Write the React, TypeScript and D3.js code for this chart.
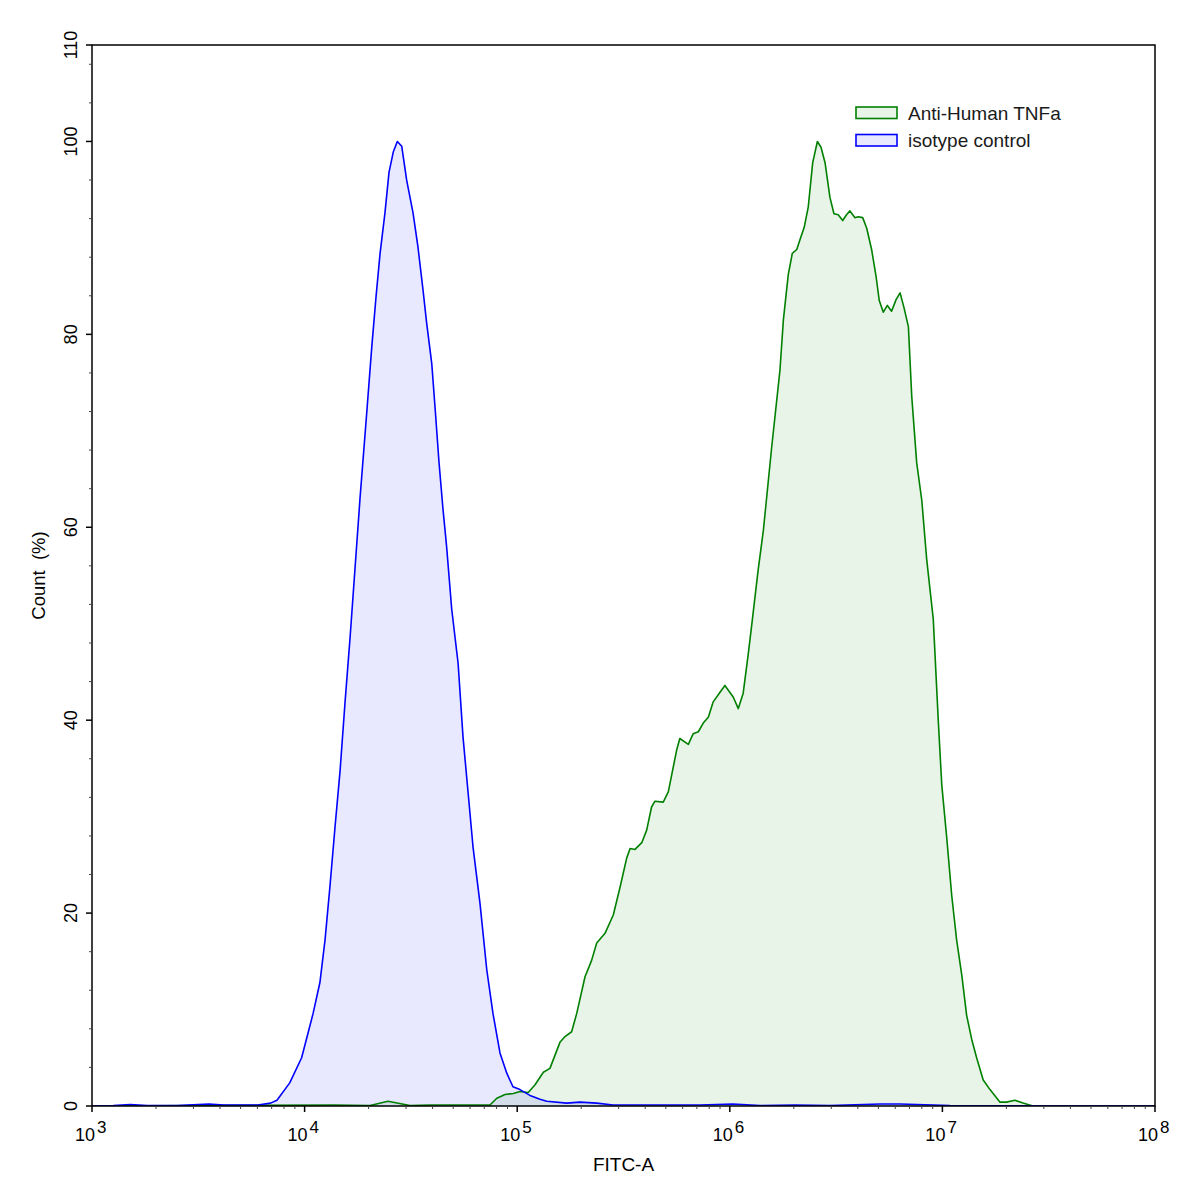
import React, { useEffect, useRef } from 'react';
import * as d3 from 'd3';

const tnfLogFitc = [
  3.0, 4.143, 4.308, 4.392, 4.496, 4.59, 4.778, 4.872, 4.904, 4.943, 4.982, 5.013, 5.052, 5.084,
  5.123, 5.154, 5.201, 5.225, 5.256, 5.28, 5.319, 5.35, 5.374, 5.413, 5.452, 5.484, 5.515, 5.531,
  5.554, 5.586, 5.609, 5.632, 5.648, 5.687, 5.711, 5.75, 5.765, 5.805, 5.828, 5.852, 5.875, 5.899,
  5.922, 5.954, 5.977, 6.016, 6.04, 6.063, 6.087, 6.106, 6.133, 6.158, 6.197, 6.236, 6.252, 6.275,
  6.294, 6.315, 6.33, 6.35, 6.369, 6.39, 6.412, 6.429, 6.448, 6.471, 6.49, 6.51, 6.531, 6.549,
  6.565, 6.589, 6.604, 6.625, 6.644, 6.667, 6.688, 6.703, 6.722, 6.741, 6.761, 6.782, 6.801, 6.819,
  6.84, 6.856, 6.879, 6.903, 6.926, 6.957, 6.981, 6.997, 7.02, 7.044, 7.067, 7.091, 7.114, 7.138,
  7.161, 7.192, 7.224, 7.271, 7.302, 7.341, 7.379, 7.426, 8.0,
];
const tnfCount = [
  0, 0.1, 0.05, 0.5, 0.05, 0.1, 0.1, 0.1, 0.8, 1.2, 1.3, 1.5, 1.4, 2.2,
  3.5, 3.9, 6.6, 7.2, 7.7, 9.6, 13.4, 15.1, 16.9, 17.9, 19.8, 22.7, 25.7, 26.7,
  26.6, 27.3, 28.6, 31.0, 31.6, 31.5, 32.6, 36.9, 38.1, 37.5, 38.6, 38.8, 39.7, 40.3,
  41.9, 42.9, 43.6, 42.4, 41.2, 42.8, 46.9, 50.4, 55.5, 59.7, 68.3, 76.3, 81.5, 86.2,
  88.4, 88.8, 89.8, 91.1, 93.2, 97.8, 100, 99.4, 97.8, 94.2, 92.5, 92.4, 91.8, 92.4,
  92.8, 92.1, 92.2, 92.1, 91.0, 88.8, 86.0, 83.5, 82.3, 83.0, 82.4, 83.6, 84.3, 82.8,
  80.8, 73.5, 66.7, 62.8, 56.7, 50.5, 39.8, 33.3, 27.9, 21.8, 17.2, 13.6, 9.4, 6.9,
  5.0, 2.7, 1.7, 0.4, 0.4, 0.6, 0.3, 0, 0,
];

const isoLogFitc = [
  3.0, 3.1, 3.18, 3.26, 3.4, 3.55, 3.62, 3.7, 3.78, 3.84, 3.87, 3.93, 3.986, 4.04, 4.072, 4.096,
  4.119, 4.143, 4.167, 4.19, 4.214, 4.261, 4.292, 4.316, 4.336, 4.355, 4.378, 4.397, 4.417, 4.436,
  4.457, 4.48, 4.51, 4.533, 4.557, 4.574, 4.598, 4.615, 4.632, 4.65, 4.668, 4.692, 4.722,
  4.745, 4.769, 4.792, 4.825, 4.857, 4.886, 4.919, 4.951, 4.98, 5.013, 5.06, 5.107, 5.139, 5.233,
  5.295, 5.374, 5.451, 5.625, 5.86, 6.015, 6.142, 6.307, 6.471, 6.707, 6.801, 7.036, 7.5, 8.0,
];
const isoCount = [
  0, 0.05, 0.15, 0.05, 0.05, 0.2, 0.1, 0.1, 0.1, 0.3, 0.6, 2.4, 5.0, 9.6, 12.8, 17.2,
  22.7, 28.9, 34.8, 41.8, 48.6, 63.1, 71.8, 78.7, 83.9, 88.4, 92.6, 96.8, 98.9, 100,
  99.5, 96.0, 92.6, 89.1, 84.6, 81.2, 77.0, 72.0, 66.8, 62.1, 58.0, 51.5, 45.9,
  38.3, 32.5, 26.9, 21.0, 14.1, 9.6, 5.5, 3.4, 2.0, 1.7, 1.1, 0.7, 0.5, 0.3,
  0.4, 0.3, 0.1, 0.1, 0.1, 0.2, 0.05, 0.1, 0.05, 0.2, 0.2, 0.05, 0, 0,
];

const seriesNames = ['Anti-Human TNFa', 'isotype control'];
const seriesColors = ['#008000', '#0000ff'];
const yTicks = [0, 20, 40, 60, 80, 100, 110];
const xExponents = [3, 4, 5, 6, 7, 8];

const FONT = '"Liberation Sans", Arial, sans-serif';

export default function App() {
  const svgRef = useRef<SVGSVGElement>(null);

  useEffect(() => {
    if (!svgRef.current) return;
    const svg = d3.select(svgRef.current);
    svg.selectAll('*').remove();

    const left = 92, right = 1155, top = 45, bottom = 1106;

    const x = d3.scaleLog().domain([1e3, 1e8]).range([left, right]);
    const y = d3.scaleLinear().domain([0, 110]).range([bottom, top]);

    svg.append('defs').append('clipPath').attr('id', 'plot-clip')
      .append('rect').attr('x', left).attr('y', top).attr('width', right - left).attr('height', bottom - top);

    const series = [
      { name: seriesNames[0], color: seriesColors[0], pts: tnfLogFitc.map((v, i) => [Math.pow(10, v), tnfCount[i]] as [number, number]) },
      { name: seriesNames[1], color: seriesColors[1], pts: isoLogFitc.map((v, i) => [Math.pow(10, v), isoCount[i]] as [number, number]) },
    ];

    const area = d3.area<[number, number]>()
      .x(d => x(d[0]))
      .y0(y(0))
      .y1(d => y(d[1]));
    const line = d3.line<[number, number]>()
      .x(d => x(d[0]))
      .y(d => y(d[1]));

    const plot = svg.append('g').attr('clip-path', 'url(#plot-clip)');
    series.forEach(s => {
      plot.append('path').attr('d', area(s.pts)).attr('fill', s.color).attr('fill-opacity', 0.09);
    });
    series.forEach(s => {
      plot.append('path').attr('d', line(s.pts)).attr('fill', 'none')
        .attr('stroke', s.color).attr('stroke-width', 1.6).attr('stroke-linejoin', 'round');
    });

    // frame
    svg.append('rect').attr('x', left).attr('y', top).attr('width', right - left).attr('height', bottom - top)
      .attr('fill', 'none').attr('stroke', '#000').attr('stroke-width', 1.5);

    // y ticks
    const yMinor = d3.range(0, 111, 4).filter(v => v % 20 !== 0);
    svg.selectAll('.ymin').data(yMinor).enter().append('line')
      .attr('x1', left - 3).attr('x2', left).attr('y1', d => y(d)).attr('y2', d => y(d))
      .attr('stroke', '#444').attr('stroke-width', 1);
    svg.selectAll('.ymaj').data(yTicks).enter().append('line')
      .attr('x1', left - 6).attr('x2', left).attr('y1', d => y(d)).attr('y2', d => y(d))
      .attr('stroke', '#000').attr('stroke-width', 1.5);
    svg.selectAll('.ylab').data(yTicks).enter().append('text')
      .attr('transform', d => `translate(${left - 15},${y(d)}) rotate(-90)`)
      .attr('text-anchor', 'middle')
      .attr('font-family', FONT).attr('font-size', 18).attr('fill', '#000')
      .text(d => d);

    // x ticks
    const xMinor: number[] = [];
    xExponents.slice(0, -1).forEach(e => {
      for (let k = 2; k <= 9; k++) xMinor.push(k * Math.pow(10, e));
    });
    svg.selectAll('.xmin').data(xMinor).enter().append('line')
      .attr('x1', d => x(d)).attr('x2', d => x(d)).attr('y1', bottom).attr('y2', bottom + 3)
      .attr('stroke', '#444').attr('stroke-width', 1);
    svg.selectAll('.xmaj').data(xExponents).enter().append('line')
      .attr('x1', d => x(Math.pow(10, d))).attr('x2', d => x(Math.pow(10, d)))
      .attr('y1', bottom).attr('y2', bottom + 6)
      .attr('stroke', '#000').attr('stroke-width', 1.5);
    const xl = svg.selectAll('.xlab').data(xExponents).enter().append('g')
      .attr('transform', d => `translate(${x(Math.pow(10, d))},1141)`);
    xl.append('text').attr('x', 3).attr('text-anchor', 'end')
      .attr('font-family', FONT).attr('font-size', 18).attr('fill', '#000').text('10');
    xl.append('text').attr('x', 5).attr('y', -8)
      .attr('font-family', FONT).attr('font-size', 17).attr('fill', '#000').text(d => d);

    // axis titles
    svg.append('text').attr('x', (left + right) / 2).attr('y', 1171).attr('text-anchor', 'middle')
      .attr('font-family', FONT).attr('font-size', 19).attr('fill', '#000').text('FITC-A');
    svg.append('text').attr('transform', `translate(45,${(top + bottom) / 2}) rotate(-90)`)
      .attr('text-anchor', 'middle').attr('xml:space', 'preserve')
      .attr('font-family', FONT).attr('font-size', 18.5).attr('fill', '#000').text('Count  (%)');

    // legend
    const lg = svg.append('g').attr('transform', 'translate(856,107)');
    series.forEach((s, i) => {
      lg.append('rect').attr('x', 0).attr('y', i * 27.5).attr('width', 41).attr('height', 11.5)
        .attr('fill', s.color).attr('fill-opacity', 0.09).attr('stroke', s.color).attr('stroke-width', 1.6);
      lg.append('text').attr('x', 52).attr('y', i * 27.5 + 12.5)
        .attr('font-family', FONT).attr('font-size', 19).attr('fill', '#1a1a1a').text(s.name);
    });
  }, []);

  return (
    <svg
      ref={svgRef}
      width={1197}
      height={1193}
      style={{ position: 'absolute', left: 0, top: 0, background: '#fff' }}
    />
  );
}
